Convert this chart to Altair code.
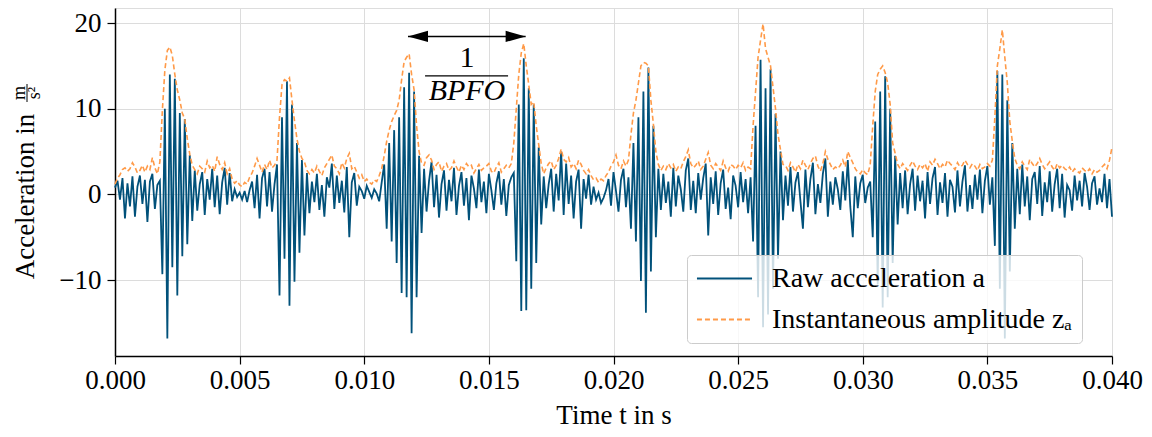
import altair as alt
import pandas as pd

# ---------------- data ----------------
T_STEP = 0.0001  # sampling interval of the drawn trace (s)

RAW = [
    0.8, 1.6, -0.6, 1.9, -2.8, 1.3, -1.4, 2.1, -2.6, 0.9,
    2.2, -1.1, 1.7, -3.2, 1.5, 2.4, -1.7, 1.1, 1.6, -9.3,
    10.0, -16.8, 14.0, -8.5, 13.5, -11.8, 9.5, -7.2, 8.8, -5.8,
    4.6, -3.1, 2.8, -1.9, 1.2, 2.6, -2.4, 1.8, -0.6, 3.0,
    -1.5, 2.2, -2.3, 1.4, 3.1, -1.2, 2.5, -0.8, 0.6, -0.3,
    0.2, -0.6, 0.4, -0.9, 0.5, 1.5, -1.6, 2.3, -2.8, 1.9,
    3.0, -1.4, 2.6, -2.0, 1.2, 3.5, -11.8, 9.0, -7.5, 13.2,
    -13.0, 10.5, -10.2, 6.0, -6.8, 4.0, -4.8, 2.5, -2.2, 1.5,
    -0.9, 2.4, -1.8, 1.1, -2.6, 2.0, 0.8, 3.6, -1.7, 2.2,
    -1.0, 1.6, -2.1, 3.2, -5.0, 1.4, 2.5, -1.3, 0.9, 0.4,
    -0.5, 1.0, 0.3, -0.4, 0.6, 0.1, -0.8, 1.4, 3.5, -4.0,
    6.0, -5.5, 7.5, -8.0, 9.0, -11.5, 12.5, -12.0, 14.2, -16.2,
    12.0, -12.0, 4.5, -4.5, 3.0, -2.0, 1.6, 3.8, -1.5, 2.3,
    -2.7, 1.2, 2.8, -1.9, 1.7, -0.8, 3.1, -2.4, 1.0, 2.6,
    -1.3, 1.9, -3.0, 2.2, 0.7, -1.6, 2.9, -0.9, 1.5, -2.2,
    2.4, 0.5, -1.8, 1.3, 2.7, -1.2, 1.8, -2.5, 1.1, 2.0,
    2.5, -7.8, 10.5, -13.6, 15.9, -13.5, 12.4, -11.0, 10.5, -8.0,
    5.5, -3.5, 2.1, -1.6, 1.2, 3.0, -2.0, 2.4, -0.7, 5.0,
    -2.4, 3.6, -1.1, 2.2, -2.8, 1.5, 2.9, -4.0, 1.8, -0.5,
    2.3, -1.2, 0.9, -0.6, 0.2, -1.0, -0.4, 0.5, 1.8, -1.3,
    2.6, 0.4, -2.0, 1.7, 3.0, -1.5, 2.0, -4.0, 6.0, -5.5,
    9.0, -10.1, 12.0, -13.8, 14.8, -9.0, 8.0, -5.0, 3.0, -1.8,
    2.4, -1.0, 1.5, -2.6, 3.1, -1.4, 2.2, 0.6, -2.0, 2.8,
    4.2, -1.8, 1.6, -2.2, 2.5, -0.6, 1.9, 3.6, -4.8, 2.0,
    -1.1, 2.7, -2.4, 1.3, 2.9, -1.7, 0.8, -2.9, 2.2, 1.0,
    -1.5, 2.6, -0.9, 1.8, -2.2, 2.0, -5.5, 8.0, -12.0, 15.7,
    -15.5, 12.4, -14.0, 14.6, -11.0, 9.4, -7.5, 5.0, -3.0, 2.2,
    -1.3, 3.2, -2.0, 1.4, 2.6, -0.8, -4.0, 2.9, -1.5, 1.8,
    3.7, -2.3, 1.2, -1.0, 2.4, 4.2, -2.6, 1.5, -1.2, 2.0,
    0.6, -1.8, 2.7, -0.7, 4.0, -1.4, -5.0, 2.1, -1.6, 1.3,
    2.3, -1.0, 0.8, 1.5, -5.0, 8.5, -10.5, 12.0, -13.2, 13.8,
    -12.0, 10.0, -8.0, 4.5, -3.5, 2.5, -1.6, 2.8, -2.3, 1.2,
    3.0, -1.9, 2.2, -0.8, 1.6, -2.8, 2.6, -1.1, 1.9, 3.2,
    -2.4, 1.4, -1.0, 2.5, -2.6, 1.7, 0.9, -2.1, 2.8, -1.4,
    1.5, 3.4, -2.0, 1.1, -1.7, 2.3, -0.6, 2.9, -2.2, 1.6,
    3.3, -1.2, 2.0, -6.0, 14.4, -11.0, 14.0, -16.8, 11.0, -9.0,
    6.0, -4.0, 3.0, -2.3, 3.5, -1.4, 2.1, -3.0, 1.8, 2.6,
    -1.1, 3.3, -2.5, 1.4, -0.9, 2.7, -2.0, 1.2, 3.0, -1.6,
    2.4, -2.7, 1.1, 0.5, -1.9, 2.2, -0.7, 1.6, -1.4, 2.5,
    0.9, -1.8, 1.3, 2.1, -1.2, 0.7, -0.9, 2.4, -1.6, 1.8, -2.6,
]

ENV = [
    1.2, 1.9, 2.3, 2.9, 3.1, 2.7, 3.0, 3.7, 3.2, 2.5,
    2.8, 3.4, 2.6, 3.3, 2.9, 4.3, 3.1, 2.4, 3.8, 9.8,
    14.5, 16.8, 17.2, 16.2, 14.0, 12.2, 11.0, 9.5, 8.8, 6.5,
    4.7, 3.4, 2.9, 2.4, 3.3, 3.0, 2.6, 3.9, 3.1, 3.4,
    2.7, 4.4, 3.5, 2.9, 3.7, 2.4, 3.0, 1.8, 1.3, 1.6,
    1.1, 0.9, 1.4, 1.2, 2.0, 2.5, 3.3, 4.2, 3.4, 2.6,
    3.5, 2.9, 4.0, 3.1, 3.4, 4.0, 9.0, 12.8, 13.4, 13.2,
    13.6, 11.0, 8.6, 6.5, 5.0, 4.2, 3.8, 2.8, 2.4, 2.9,
    2.5, 3.3, 2.7, 2.2, 3.1, 3.6, 4.1, 4.6, 3.3, 3.0,
    2.4, 3.7, 3.1, 4.2, 4.8, 3.0, 3.3, 2.6, 1.9, 2.3,
    1.5, 1.8, 1.4, 1.2, 1.7, 1.5, 2.2, 3.0, 4.5, 6.2,
    7.5, 8.5, 9.2, 9.8, 11.0, 13.4, 15.5, 16.0, 16.4, 14.0,
    12.2, 8.0, 5.0, 3.6, 3.4, 4.3, 4.6, 4.0, 2.9, 3.5,
    3.8, 2.7, 3.3, 3.6, 2.8, 3.1, 3.9, 3.2, 2.6, 3.4,
    2.9, 3.6, 3.2, 3.4, 2.5, 3.0, 3.5, 2.8, 3.1, 3.3,
    3.6, 2.7, 2.5, 3.2, 3.7, 2.6, 3.0, 3.4, 3.1, 3.6,
    6.0, 10.0, 14.0, 16.5, 17.6, 15.0, 12.8, 10.5, 10.8, 8.0,
    5.8, 3.6, 2.4, 3.1, 3.6, 3.9, 2.9, 3.4, 4.2, 5.3,
    4.1, 3.8, 4.3, 3.2, 3.6, 3.0, 4.0, 3.5, 2.8, 2.4,
    2.9, 2.2, 1.7, 1.9, 1.4, 1.8, 1.6, 2.2, 2.6, 3.3,
    3.8, 4.6, 3.4, 3.0, 3.9, 3.3, 4.0, 7.0, 9.5, 11.0,
    13.0, 15.0, 15.4, 15.3, 15.0, 11.0, 8.2, 5.0, 3.5, 2.8,
    3.3, 2.9, 3.6, 3.1, 3.5, 2.7, 3.2, 3.0, 3.8, 4.4,
    5.2, 3.6, 3.1, 3.4, 3.9, 2.9, 3.3, 4.1, 4.9, 3.4,
    3.0, 3.6, 3.2, 2.8, 3.9, 3.1, 2.7, 3.5, 3.3, 2.9,
    3.4, 3.1, 3.7, 2.8, 3.2, 3.0, 8.0, 12.0, 16.0, 18.0,
    19.9, 17.0, 16.0, 15.0, 12.5, 10.0, 7.0, 5.2, 3.5, 3.4,
    2.8, 3.7, 3.2, 2.6, 3.5, 3.0, 4.0, 3.4, 2.9, 3.6,
    4.2, 4.5, 3.3, 2.7, 3.6, 5.0, 4.1, 3.5, 2.9, 3.2,
    3.0, 3.4, 4.0, 3.2, 5.0, 4.3, 3.7, 3.0, 2.6, 2.4,
    2.9, 2.5, 2.3, 3.5, 8.0, 12.0, 14.0, 14.6, 15.0, 14.2,
    13.0, 10.5, 6.0, 4.8, 3.5, 3.0, 3.6, 3.2, 2.8, 3.4,
    3.9, 3.3, 2.9, 3.5, 3.1, 3.6, 2.7, 3.8, 3.4, 4.1,
    3.6, 3.0, 3.5, 3.2, 4.0, 3.6, 3.3, 2.9, 3.7, 3.2,
    3.4, 4.0, 3.5, 3.1, 3.6, 3.3, 2.8, 3.5, 3.0, 3.2,
    3.6, 3.3, 4.0, 9.0, 15.0, 17.0, 19.2, 16.0, 13.0, 8.5,
    6.2, 4.2, 3.4, 3.0, 3.8, 3.3, 2.9, 4.1, 3.6, 3.2,
    3.6, 4.2, 3.5, 3.0, 3.4, 3.8, 3.2, 2.8, 3.6, 3.1,
    3.4, 3.0, 2.8, 3.2, 2.6, 3.0, 2.7, 2.5, 3.1, 2.8,
    2.6, 3.0, 2.4, 2.9, 2.6, 2.8, 3.2, 3.5, 3.0, 4.0, 5.5,
]

SERIES = ["Raw acceleration a", "Instantaneous amplitude z\u2090"]
COLORS = ["#01517a", "#ff9a48"]
X_TICKS = [0.000, 0.005, 0.010, 0.015, 0.020, 0.025, 0.030, 0.035, 0.040]
Y_TICKS = [-10, 0, 10, 20]
X_DOMAIN = [0.0, 0.04]
Y_DOMAIN = [-18.85, 21.75]

# annotation: period arrow 1/BPFO
ARROW_T = [0.011755, 0.016475]
ARROW_Y = 18.43
FRAC_T = [0.01244, 0.01577]
FRAC_CENTER_T = 0.01412
NUM_Y = 15.9
BAR_Y = 13.84
DEN_Y = 12.1

assert len(RAW) == len(ENV)

FONT = "Liberation Serif"
FS = 27

t = [round(i * T_STEP, 5) for i in range(len(RAW))]
df = pd.DataFrame({
    "t": t + t,
    "value": RAW + ENV,
    "series": [SERIES[0]] * len(RAW) + [SERIES[1]] * len(ENV),
})

xscale = alt.Scale(domain=X_DOMAIN, nice=False, zero=False)
yscale = alt.Scale(domain=Y_DOMAIN, nice=False, zero=False)

legend = alt.Legend(
    title=None, orient="none", legendX=572, legendY=247,
    symbolType="M-2.04,0L2.04,0", symbolSize=729, symbolOffset=14, symbolStrokeWidth=1.8,
    labelFont=FONT, labelFontSize=28, labelColor="black", labelLimit=0,
    labelOffset=33, rowPadding=12, padding=9,
    strokeColor="#cccccc", fillColor="rgba(255,255,255,0.8)", cornerRadius=4,
)

x_enc = alt.X(
    "t:Q", scale=xscale,
    axis=alt.Axis(
        values=X_TICKS, format=".3f", title="Time t in s",
        titleFont=FONT, titleFontSize=FS, titleFontWeight="normal", titleColor="black",
        labelFont=FONT, labelFontSize=FS, labelColor="black", labelPadding=3,
        titlePadding=9, tickSize=8, tickColor="black", tickWidth=1.2,
        domainColor="black", domainWidth=1.5, gridColor="#dcdcdc", gridWidth=1,
        labelFlush=False,
    ),
)
y_enc = alt.Y(
    "value:Q", scale=yscale,
    axis=alt.Axis(
        values=Y_TICKS, title="Acceleration in",
        titleFont=FONT, titleFontSize=FS, titleFontWeight="normal", titleColor="black",
        titleAngle=270, titleX=-82, titleY=188, titleAlign="center", titleBaseline="alphabetic",
        labelFont=FONT, labelFontSize=FS, labelColor="black", labelPadding=6,
        tickSize=8, tickColor="black", tickWidth=1.2,
        domainColor="black", domainWidth=1.5, gridColor="#dcdcdc", gridWidth=1,
    ),
)
color_enc = alt.Color("series:N", scale=alt.Scale(domain=SERIES, range=COLORS), legend=legend)
dash_enc = alt.StrokeDash("series:N", scale=alt.Scale(domain=SERIES, range=[[1, 0], [5, 3]]), legend=legend)

raw_layer = alt.Chart(df).transform_filter(
    alt.datum.series == SERIES[0]
).mark_line(strokeWidth=1.8, strokeJoin="miter").encode(
    x=x_enc, y=y_enc, color=color_enc, strokeDash=dash_enc
)
env_layer = alt.Chart(df).transform_filter(
    alt.datum.series == SERIES[1]
).mark_line(strokeWidth=1.6).encode(
    x=x_enc, y=y_enc, color=color_enc, strokeDash=dash_enc
)

# arrow
arrow_df = pd.DataFrame({"t1": [ARROW_T[0]], "t2": [ARROW_T[1]], "y": [ARROW_Y]})
arrow_line = alt.Chart(arrow_df).mark_rule(color="black", strokeWidth=1.5).encode(
    x=alt.X("t1:Q", scale=xscale), x2="t2:Q", y=alt.Y("y:Q", scale=yscale)
)
head_l = alt.Chart(pd.DataFrame({"t": [ARROW_T[0]], "y": [ARROW_Y]})).mark_point(
    shape="M0,0L1,-0.28L1,0.28Z", filled=True, color="black", size=1600, opacity=1, strokeWidth=0
).encode(x=alt.X("t:Q", scale=xscale), y=alt.Y("y:Q", scale=yscale))
head_r = alt.Chart(pd.DataFrame({"t": [ARROW_T[1]], "y": [ARROW_Y]})).mark_point(
    shape="M0,0L-1,-0.28L-1,0.28Z", filled=True, color="black", size=1600, opacity=1, strokeWidth=0
).encode(x=alt.X("t:Q", scale=xscale), y=alt.Y("y:Q", scale=yscale))

num_text = alt.Chart(pd.DataFrame({"t": [FRAC_CENTER_T], "y": [NUM_Y], "s": ["1"]})).mark_text(
    font=FONT, fontSize=30, color="black", align="center", baseline="middle"
).encode(x=alt.X("t:Q", scale=xscale), y=alt.Y("y:Q", scale=yscale), text="s:N")
den_text = alt.Chart(pd.DataFrame({"t": [FRAC_CENTER_T], "y": [DEN_Y], "s": ["BPFO"]})).mark_text(
    font=FONT, fontSize=30, fontStyle="italic", color="black", align="center", baseline="middle"
).encode(x=alt.X("t:Q", scale=xscale), y=alt.Y("y:Q", scale=yscale), text="s:N")
frac_bar = alt.Chart(pd.DataFrame({"t1": [FRAC_T[0]], "t2": [FRAC_T[1]], "y": [BAR_Y]})).mark_rule(
    color="black", strokeWidth=1.3
).encode(x=alt.X("t1:Q", scale=xscale), x2="t2:Q", y=alt.Y("y:Q", scale=yscale))

# unit fraction m / s^2 of the y-axis title
unit_num = alt.Chart(pd.DataFrame({"s": ["m"]})).mark_text(
    font=FONT, fontSize=18, color="black", angle=270, align="center", baseline="middle"
).encode(x=alt.value(-95), y=alt.value(85), text="s:N")
unit_den = alt.Chart(pd.DataFrame({"s": ["s\u00b2"]})).mark_text(
    font=FONT, fontSize=18, color="black", angle=270, align="center", baseline="middle"
).encode(x=alt.value(-80), y=alt.value(85), text="s:N")
unit_bar = alt.Chart(pd.DataFrame({"s": ["bar"]})).mark_rule(color="black", strokeWidth=1).encode(
    x=alt.value(-88), y=alt.value(76), y2=alt.value(94)
)

chart = alt.layer(
    raw_layer, env_layer, arrow_line, head_l, head_r, num_text, den_text, frac_bar,
    unit_num, unit_den, unit_bar,
).properties(
    width=997, height=348,
    autosize=alt.AutoSizeParams(type="none"),
    padding={"left": 107, "top": 0, "right": 32, "bottom": 73},
).configure_view(
    stroke="black", strokeWidth=1.5
).configure(background="white")

chart.save("out.html", embed_options={"renderer": "svg", "actions": False})
